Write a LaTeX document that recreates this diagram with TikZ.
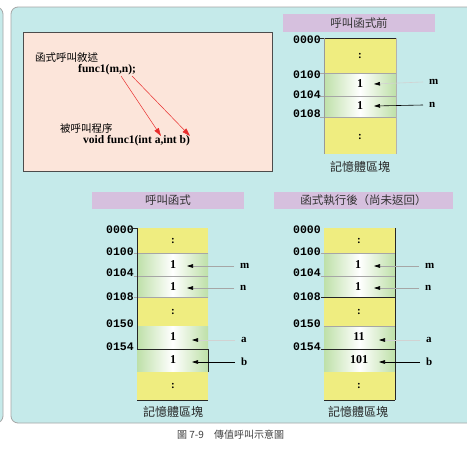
\documentclass[tikz,border=0pt]{standalone}
\usepackage{fontspec}
\setmainfont{Liberation Serif}
\setmonofont{Liberation Mono}
\newfontfamily\cjk{Noto Sans CJK TC}
\usetikzlibrary{arrows.meta}
\definecolor{bgcyan}{RGB}{197,234,234}
\definecolor{pinkbox}{RGB}{252,229,218}
\definecolor{lav}{RGB}{214,192,222}
\definecolor{yel}{RGB}{239,237,128}
\definecolor{grn}{RGB}{190,224,168}
\definecolor{redarr}{RGB}{232,45,45}
\tikzset{
  panel/.style={fill=bgcyan, draw=gray!70, line width=0.8pt, rounded corners=7pt},
  hdr/.style={fill=lav, draw=none},
  hdrtxt/.style={font=\cjk\fontsize{11.5}{13}\selectfont, text=black!80},
  ycell/.style={fill=yel},
  gcell/.style={left color=grn, right color=grn, middle color=white},
  rowline/.style={draw=gray!70, line width=0.6pt},
  darkline/.style={draw=black!85, line width=0.8pt},
  addr/.style={font=\ttfamily\bfseries\fontsize{11.5}{12}\selectfont, anchor=east, inner sep=1pt},
  val/.style={font=\bfseries\fontsize{12}{13}\selectfont, inner sep=1pt},
  dots/.style={font=\bfseries\fontsize{11}{12}\selectfont, inner sep=1pt},
  lab/.style={font=\bfseries\fontsize{11}{12}\selectfont, anchor=west, inner sep=1pt},
  memtxt/.style={font=\cjk\fontsize{12}{13}\selectfont, text=black!85},
  ptr/.style={line width=0.6pt, -{Triangle[length=6pt,width=3.6pt,color=black]}},
  ptrlight/.style={ptr, draw=gray!35},
  ptrgray/.style={ptr, draw=gray!70},
  ptrblack/.style={ptr, draw=black},
  redarrow/.style={draw=redarr, line width=0.5pt, -{Triangle[length=8pt,width=5pt,color=redarr]}},
  cjktxt/.style={font=\cjk\fontsize{10.5}{12}\selectfont, anchor=west, inner sep=0pt},
  code/.style={font=\bfseries\fontsize{11.5}{13}\selectfont, anchor=west, inner sep=0pt},
}
\begin{document}
\begin{tikzpicture}[x=1pt,y=-1pt]
\useasboundingbox (0,0) rectangle (467,453);
\clip (0,0) rectangle (467,453);
\fill[white] (0,0) rectangle (467,453);
% panels
\draw[panel] (-30,7) rectangle (3,423);
\draw[panel] (11,7) rectangle (490,423);
% pink box
\draw[fill=pinkbox, draw=black!70, line width=0.6pt] (23,32) rectangle (272,171);
\node[cjktxt] (t1) at (35,57) {函式呼叫敘述};
\node[code] (call) at (78,70) {func1(m,n);};
\node[cjktxt] (t2) at (60,128) {被呼叫程序};
\node[code] (def) at (83,141) {void func1(int a,int b)};
\coordinate (cm) at (121,76);
\coordinate (cn) at (132,76);
\coordinate (da) at (161,136);
\coordinate (db) at (190,136);
\draw[redarrow] (cm) -- (da);
\draw[redarrow] (cn) -- (db);

% ===== top right: before call
\fill[hdr] (283,14) rectangle (435,32);
\node[hdrtxt] (h1) at (359,23) {呼叫函式前};
\fill[ycell] (324,38) rectangle (396,73);
\shade[gcell] (324,73) rectangle (396,96);
\shade[gcell] (324,96) rectangle (396,117);
\fill[ycell] (324,117) rectangle (396,154);
\draw[darkline] (320,38) -- (396,38);
\draw[rowline] (320,73) -- (396,73);
\draw[rowline] (320,96) -- (396,96);
\draw[rowline] (320,117) -- (396,117);
\draw[draw=gray!80, line width=0.6pt] (324,38) -- (324,154);
\draw[draw=gray!60, line width=0.6pt] (396,38) -- (396,154);
\node[addr] (a1) at (322,40) {0000};
\node[addr] (a2) at (322,75) {0100};
\node[addr] (a3) at (322,95) {0104};
\node[addr] (a4) at (322,114) {0108};
\node[dots] (d1) at (360,56) {:};
\node[val] (v1) at (360,84) {1};
\node[val] (v2) at (360,106) {1};
\node[dots] (d2) at (360,137) {:};
\node[lab] (m1) at (428,82) {m};
\node[lab] (n1) at (428,105) {n};
\coordinate (pm1) at (374,84);
\coordinate (pn1) at (374,106);
\draw[ptrlight] ([xshift=-5pt]m1.west) -- (pm1);
\draw[ptrblack] ([xshift=-5pt]n1.west) -- (pn1);
\node[memtxt] (mem1) at (360,167) {記憶體區塊};

% ===== bottom left: calling
\fill[hdr] (92,192) rectangle (244,209);
\node[hdrtxt] (h2) at (168,200.5) {呼叫函式};
\fill[ycell] (137,228) rectangle (208,253);
\shade[gcell] (137,253) rectangle (208,276);
\shade[gcell] (137,276) rectangle (208,297);
\fill[ycell] (137,297) rectangle (208,326);
\shade[gcell] (137,326) rectangle (208,349);
\shade[gcell] (137,349) rectangle (208,372);
\fill[ycell] (137,372) rectangle (208,400);
\draw[rowline] (134,253) -- (208,253);
\draw[rowline] (134,276) -- (208,276);
\draw[rowline] (134,297) -- (208,297);
\draw[darkline] (137,228) -- (137,349) -- (208,349) -- (208,372);
\draw[darkline] (133,228) -- (137,228);
\draw[darkline] (137,400) -- (208,400);
\node[addr] (b1) at (135,230) {0000};
\node[addr] (b2) at (135,252) {0100};
\node[addr] (b3) at (135,273) {0104};
\node[addr] (b4) at (135,297) {0108};
\node[addr] (b5) at (135,324) {0150};
\node[addr] (b6) at (135,347) {0154};
\node[dots] (e1) at (173,241) {:};
\node[val] (w1) at (173,265) {1};
\node[val] (w2) at (173,287) {1};
\node[dots] (e2) at (173,312) {:};
\node[val] (w3) at (173,337) {1};
\node[val] (w4) at (173,360) {1};
\node[dots] (e3) at (173,386) {:};
\node[lab] (m2) at (239,266) {m};
\node[lab] (n2) at (239,288) {n};
\node[lab] (a2l) at (240,340) {a};
\node[lab] (b2l) at (240,362) {b};
\coordinate (pm2) at (187,266);
\coordinate (pn2) at (187,288);
\coordinate (pa2) at (192,340);
\coordinate (pb2) at (192,362);
\draw[ptrgray] ([xshift=-5pt]m2.west) -- (pm2);
\draw[ptrgray] ([xshift=-5pt]n2.west) -- (pn2);
\draw[ptrlight] ([xshift=-5pt]a2l.west) -- (pa2);
\draw[ptrblack] ([xshift=-5pt]b2l.west) -- (pb2);
\node[memtxt] (mem2) at (173,412) {記憶體區塊};

% ===== bottom right: after execution
\fill[hdr] (274,192) rectangle (453,209);
\node[hdrtxt] (h3) at (363.5,200.5) {函式執行後（尚未返回）};
\fill[ycell] (324,228) rectangle (395,253);
\shade[gcell] (324,253) rectangle (395,276);
\shade[gcell] (324,276) rectangle (395,297);
\fill[ycell] (324,297) rectangle (395,326);
\shade[gcell] (324,326) rectangle (395,349);
\shade[gcell] (324,349) rectangle (395,372);
\fill[ycell] (324,372) rectangle (395,400);
\draw[rowline] (321,253) -- (395,253);
\draw[rowline] (321,276) -- (395,276);
\draw[darkline] (321,297) -- (395,297);
\draw[rowline] (324,326) -- (395,326);
\draw[darkline] (321,349) -- (395,349);
\draw[darkline] (395,228) -- (395,400);
\draw[darkline] (324,400) -- (395,400);
\node[addr] (c1) at (322,230) {0000};
\node[addr] (c2) at (322,252) {0100};
\node[addr] (c3) at (322,273) {0104};
\node[addr] (c4) at (322,297) {0108};
\node[addr] (c5) at (322,324) {0150};
\node[addr] (c6) at (322,347) {0154};
\node[dots] (f1) at (359,241) {:};
\node[val] (x1) at (358,265) {1};
\node[val] (x2) at (358,287) {1};
\node[dots] (f2) at (359,312) {:};
\node[val] (x3) at (359,337) {11};
\node[val] (x4) at (359,360) {101};
\node[dots] (f3) at (359,386) {:};
\node[lab] (m3) at (424,266) {m};
\node[lab] (n3) at (424,288) {n};
\node[lab] (a3l) at (425,340) {a};
\node[lab] (b3l) at (425,362) {b};
\coordinate (pm3) at (374,266);
\coordinate (pn3) at (374,288);
\coordinate (pa3) at (379,340);
\coordinate (pb3) at (379,362);
\draw[ptrgray] ([xshift=-5pt]m3.west) -- (pm3);
\draw[ptrgray] ([xshift=-5pt]n3.west) -- (pn3);
\draw[ptrlight] ([xshift=-5pt]a3l.west) -- (pa3);
\draw[ptrblack] ([xshift=-5pt]b3l.west) -- (pb3);
\node[memtxt] (mem3) at (358,412) {記憶體區塊};

% caption
\node[font=\cjk\fontsize{10}{12}\selectfont, text=black!75, anchor=west, inner sep=0pt] (cap) at (177,435) {圖 7-9\hspace{1em}傳值呼叫示意圖};
\end{tikzpicture}
\end{document}
